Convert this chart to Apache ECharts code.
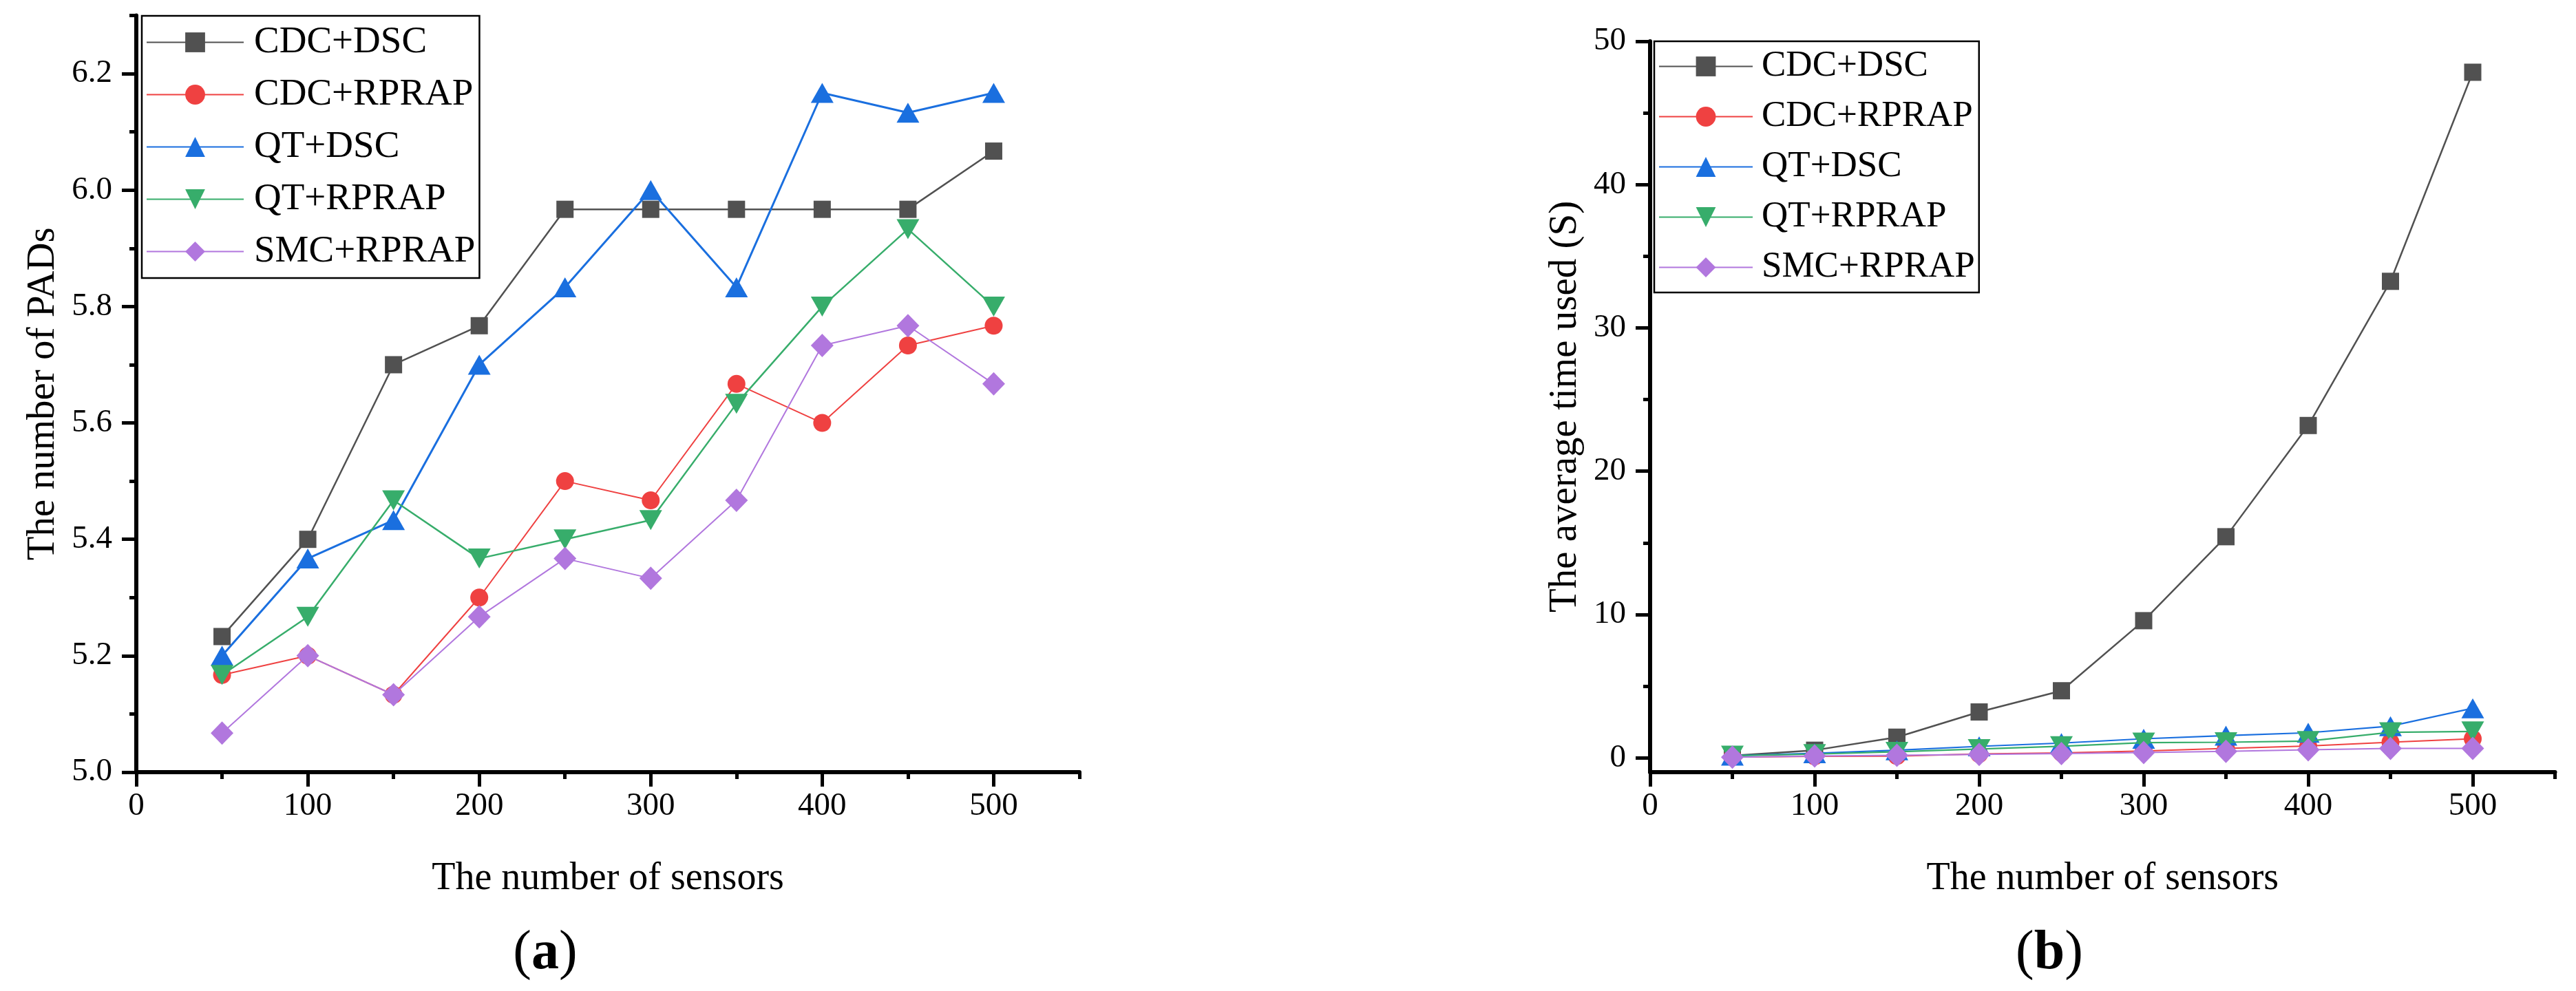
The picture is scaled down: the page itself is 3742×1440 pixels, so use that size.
<!DOCTYPE html>
<html><head><meta charset="utf-8">
<script src="https://cdn.jsdelivr.net/npm/echarts@6/dist/echarts.min.js"></script>
<style>html,body{margin:0;padding:0;background:#fff}#c{width:3742px;height:1440px}</style>
</head><body><div id="c"></div>
<script>
// ---------- data ----------
const sensors = [50, 100, 150, 200, 250, 300, 350, 400, 450, 500];
const seriesNames = ['CDC+DSC', 'CDC+RPRAP', 'QT+DSC', 'QT+RPRAP', 'SMC+RPRAP'];

// (a) number of PADs
const padsCdcDsc   = [5.233, 5.400, 5.700, 5.767, 5.967, 5.967, 5.967, 5.967, 5.967, 6.067];
const padsCdcRprap = [5.167, 5.200, 5.133, 5.300, 5.500, 5.467, 5.667, 5.600, 5.733, 5.767];
const padsQtDsc    = [5.200, 5.367, 5.433, 5.700, 5.833, 6.000, 5.833, 6.167, 6.133, 6.167];
const padsQtRprap  = [5.167, 5.267, 5.467, 5.367, 5.400, 5.433, 5.633, 5.800, 5.933, 5.800];
const padsSmcRprap = [5.067, 5.200, 5.133, 5.267, 5.367, 5.333, 5.467, 5.733, 5.767, 5.667];

// (b) average time used (S)
const timeCdcDsc   = [0.15, 0.53, 1.44, 3.20, 4.68, 9.57, 15.43, 23.19, 33.25, 47.84];
const timeCdcRprap = [0.05, 0.10, 0.12, 0.27, 0.35, 0.48, 0.66, 0.82, 1.09, 1.33];
const timeQtDsc    = [0.15, 0.32, 0.53, 0.80, 1.03, 1.33, 1.55, 1.75, 2.21, 3.46];
const timeQtRprap  = [0.15, 0.26, 0.42, 0.61, 0.81, 1.06, 1.09, 1.17, 1.78, 1.84];
const timeSmcRprap = [0.05, 0.13, 0.18, 0.24, 0.30, 0.37, 0.45, 0.56, 0.66, 0.66];

// ticks
const xMajorTicks = [0, 100, 200, 300, 400, 500];
const xMinorTicks = [50, 150, 250, 350, 450, 550];
const padsMajorTicks = [5.0, 5.2, 5.4, 5.6, 5.8, 6.0, 6.2];
const padsMinorTicks = [5.1, 5.3, 5.5, 5.7, 5.9, 6.1, 6.3];
const timeMajorTicks = [0, 10, 20, 30, 40, 50];
const timeMinorTicks = [5, 15, 25, 35, 45];

// ---------- styles ----------
const FONT = "'Liberation Serif', 'Times New Roman', serif";
const colors = ['#515151', '#EF4141', '#1A6FDF', '#37AD6B', '#B177DE'];
const symbols = ['rect', 'circle', 'triangle', 'triangle', 'diamond'];
const symbolSizes = [25, 26, [33, 29], [33, 29], [33, 34]];
const symbolRotates = [0, 0, 0, 180, 0];
const lineWidthsA = [2.5, 2, 3, 2.5, 2];
const lineWidthsB = [2.5, 2, 2.2, 2.2, 2];

const pairs = (xs, ys) => xs.map((x, i) => [x, ys[i]]);
const padsData = [padsCdcDsc, padsCdcRprap, padsQtDsc, padsQtRprap, padsSmcRprap];
const timeData = [timeCdcDsc, timeCdcRprap, timeQtDsc, timeQtRprap, timeSmcRprap];

const AXW = 6;
const TKW = 5;
function mainX(grid) {
  return {
    type: 'value', gridIndex: grid, min: 0, max: 550, position: 'bottom',
    name: 'The number of sensors', nameLocation: 'middle', nameGap: 127,
    nameTextStyle: { fontFamily: FONT, fontSize: 56, color: '#000' },
    axisLine: { show: true, onZero: false, lineStyle: { color: '#000', width: AXW } },
    axisTick: { show: true, inside: false, length: 21, customValues: xMajorTicks, lineStyle: { color: '#000', width: TKW } },
    axisLabel: { show: true, margin: 26, customValues: xMajorTicks, fontFamily: FONT, fontSize: 47, color: '#000' },
    splitLine: { show: false }
  };
}
function minorX(grid) {
  return {
    type: 'value', gridIndex: grid, min: 0, max: 550, position: 'bottom',
    axisLine: { show: false, onZero: false },
    axisTick: { show: true, length: 10, customValues: xMinorTicks, lineStyle: { color: '#000', width: TKW } },
    axisLabel: { show: false }, splitLine: { show: false }
  };
}
function mainY(grid, min, max, major, name, gap, fmt) {
  return {
    type: 'value', gridIndex: grid, min: min, max: max, position: 'left',
    name: name, nameLocation: 'middle', nameGap: gap, nameRotate: 90,
    nameTextStyle: { fontFamily: FONT, fontSize: 57, color: '#000' },
    axisLine: { show: true, onZero: false, lineStyle: { color: '#000', width: AXW } },
    axisTick: { show: true, length: 21, customValues: major, lineStyle: { color: '#000', width: TKW } },
    axisLabel: { show: true, margin: 35, customValues: major, fontFamily: FONT, fontSize: 47, color: '#000', formatter: fmt },
    splitLine: { show: false }
  };
}
function minorY(grid, min, max, minor) {
  return {
    type: 'value', gridIndex: grid, min: min, max: max, position: 'left',
    axisLine: { show: false, onZero: false },
    axisTick: { show: true, length: 10, customValues: minor, lineStyle: { color: '#000', width: TKW } },
    axisLabel: { show: false }, splitLine: { show: false }
  };
}

const series = [];
seriesNames.forEach((n, i) => {
  series.push({
    name: n, type: 'line', xAxisIndex: 0, yAxisIndex: 0,
    data: pairs(sensors, padsData[i]),
    symbol: symbols[i], symbolSize: symbolSizes[i], symbolRotate: symbolRotates[i],
    lineStyle: { color: colors[i], width: lineWidthsA[i] },
    itemStyle: { color: colors[i] }, z: 2 + i, animation: false
  });
});
seriesNames.forEach((n, i) => {
  series.push({
    name: n, type: 'line', xAxisIndex: 2, yAxisIndex: 2,
    data: pairs(sensors, timeData[i]),
    symbol: symbols[i], symbolSize: symbolSizes[i], symbolRotate: symbolRotates[i],
    lineStyle: { color: colors[i], width: lineWidthsB[i] },
    itemStyle: { color: colors[i] }, z: 2 + i, animation: false
  });
});

const legendBase = {
  orient: 'vertical', data: seriesNames, selectedMode: false,
  borderColor: '#000', borderWidth: 2.5, borderRadius: 0,
  itemHeight: 36, align: 'left'
};

const option = {
  animation: false,
  backgroundColor: '#fff',
  grid: [
    { left: 198, top: 22.5, width: 1370, height: 1099.5, containLabel: false },
    { left: 2397, top: 60, width: 1314.5, height: 1062, containLabel: false }
  ],
  xAxis: [mainX(0), minorX(0), mainX(1), minorX(1)],
  yAxis: [
    mainY(0, 5.0, 6.3, padsMajorTicks, 'The number of PADs', 106, v => v.toFixed(1)),
    minorY(0, 5.0, 6.3, padsMinorTicks),
    mainY(1, -1, 50, timeMajorTicks, 'The average time used (S)', 94, v => String(v)),
    minorY(1, -1, 50, timeMinorTicks)
  ],
  legend: [
    Object.assign({}, legendBase, {
      left: 206, top: 23, itemWidth: 141, itemGap: 21,
      padding: [11, 6, 11, 6],
      textStyle: { fontFamily: FONT, fontSize: 55, color: '#000', padding: [0, 0, 0, 10] }
    }),
    Object.assign({}, legendBase, {
      left: 2403, top: 60, itemWidth: 136, itemGap: 20,
      padding: [10, 6, 10, 6],
      textStyle: { fontFamily: FONT, fontSize: 53, color: '#000', padding: [0, 0, 0, 8] }
    })
  ],
  graphic: [
    { type: 'text', x: 792, y: 1386, style: { text: '{p|(}{b|a}{p|)}', align: 'center', verticalAlign: 'middle',
      rich: { p: { fontFamily: FONT, fontSize: 80, fill: '#000' }, b: { fontFamily: FONT, fontSize: 80, fontWeight: 'bold', fill: '#000' } } } },
    { type: 'text', x: 2977, y: 1386, style: { text: '{p|(}{b|b}{p|)}', align: 'center', verticalAlign: 'middle',
      rich: { p: { fontFamily: FONT, fontSize: 80, fill: '#000' }, b: { fontFamily: FONT, fontSize: 80, fontWeight: 'bold', fill: '#000' } } } }
  ],
  series: series
};

const chart = echarts.init(document.getElementById('c'), null, { renderer: 'canvas' });
chart.setOption(option);
</script>
</body></html>
